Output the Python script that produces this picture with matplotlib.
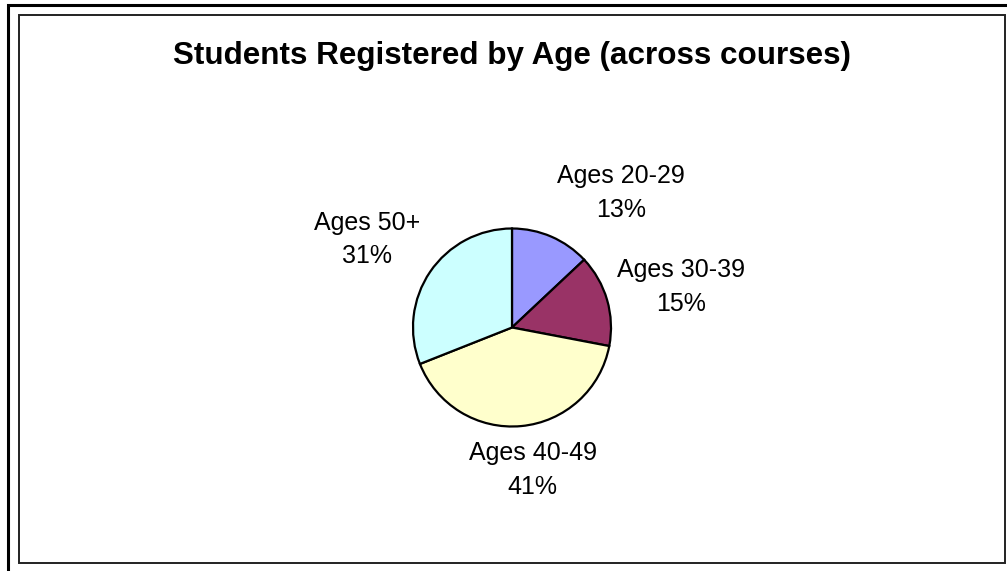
import matplotlib
matplotlib.use("Agg")
import matplotlib.pyplot as plt
from matplotlib.patches import Rectangle

W, H = 1007, 571

# Registrations by age band, in percent
age_groups = ["Ages 20-29", "Ages 30-39", "Ages 40-49", "Ages 50+"]
shares = [13, 15, 41, 31]
slice_colors = ["#9999FF", "#993366", "#FFFFCC", "#CCFFFF"]

# label anchor points around the pie, in pie radii from the centre
label_offsets = [(1.10, 1.36), (1.71, 0.41), (0.21, -1.44), (-1.46, 0.89)]

plt.rcParams["font.family"] = ["Liberation Sans", "DejaVu Sans"]

fig = plt.figure(figsize=(W / 100, H / 100), dpi=100)


def fx(px):
    return px / W


def fy(py):
    return 1 - py / H


# outer frame (runs off the right and bottom edges) and chart area box
fig.patches.append(
    Rectangle((fx(7.5), fy(H + 10)), fx(W + 20), (H + 10 - 5) / H,
              transform=fig.transFigure, fill=False, edgecolor="black",
              linewidth=2.2)
)
fig.patches.append(
    Rectangle((fx(19), fy(563)), fx(1005 - 19), (563 - 15) / H,
              transform=fig.transFigure, fill=False, edgecolor="#222222",
              linewidth=1.4)
)

fig.text(0.5 * (fx(19) + fx(1005)), fy(56), "Students Registered by Age (across courses)",
         ha="center", va="center", fontsize=22.6, fontweight="bold")

cx, cy, r = 512, 327.5, 99
ax = fig.add_axes([fx(cx - r), fy(cy + r), 2 * r / W, 2 * r / H])

ax.pie(shares, colors=slice_colors, startangle=90, counterclock=False,
       radius=1, wedgeprops=dict(edgecolor="black", linewidth=1.6))
# pie() resets the limits, so pin them to the unit circle afterwards
ax.set_xlim(-1, 1)
ax.set_ylim(-1, 1)
ax.set_axis_off()

for name, pct, (ox, oy) in zip(age_groups, shares, label_offsets):
    ax.text(ox, oy, f"{name}\n{pct}%", ha="center", va="center",
            fontsize=18, linespacing=1.5, clip_on=False)

fig.savefig("out.png", dpi=100)
